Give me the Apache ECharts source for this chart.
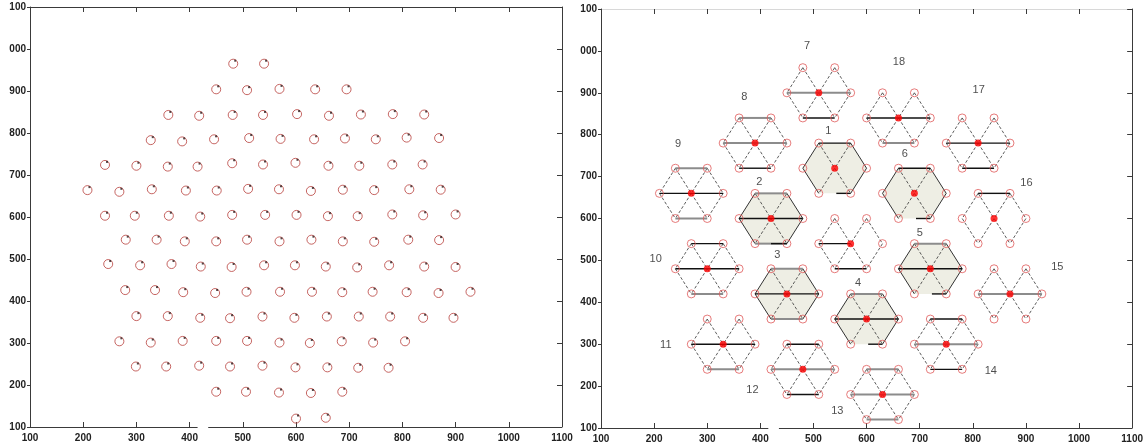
<!DOCTYPE html>
<html>
<head>
<meta charset="utf-8">
<script src="https://cdn.jsdelivr.net/npm/echarts@6/dist/echarts.min.js"></script>
<style>
  html, body { margin: 0; padding: 0; background: #fff; }
  #chart { width: 1146px; height: 448px; }
</style>
</head>
<body>
<div id="chart"></div>
<script>
// ---- Left panel: measured spot positions, one array per lattice row ----
const row960 = [[482,965],[540,965]];
const row900 = [[450,904],[508,902],[569,905],[636,904],[695,904]];
const row840 = [[360,843],[418,841],[481,843],[538,843],[602,845],[662,841],[722,844],[782,845],[841,844]];
const row780 = [[327,783],[386,780],[446,785],[512,788],[571,786],[634,785],[692,787],[750,785],[808,789],[869,788]];
const row720 = [[241,724],[300,722],[359,720],[415,720],[480,728],[538,725],[599,729],[661,722],[719,722],[781,725],[838,725]];
const row660 = [[208,664],[268,660],[329,666],[393,663],[451,663],[510,667],[568,666],[628,662],[688,665],[747,664],[813,666],[872,665]];
const row600 = [[241,603],[297,603],[361,603],[420,601],[480,605],[542,605],[601,605],[660,602],[716,602],[781,606],[839,604],[900,606]];
const row540 = [[280,546],[338,546],[391,542],[450,542],[508,546],[569,542],[629,546],[688,542],[747,541],[811,546],[869,545]];
const row480 = [[247,488],[307,485],[366,488],[421,482],[479,481],[540,485],[598,485],[656,482],[715,480],[775,485],[841,482],[900,481]];
const row420 = [[279,426],[335,426],[388,421],[448,419],[507,422],[570,422],[630,422],[687,421],[744,422],[808,421],[868,419],[928,422]];
const row360 = [[300,364],[359,364],[420,360],[476,359],[537,363],[597,360],[658,363],[718,363],[777,363],[839,360],[896,360]];
const row300 = [[268,304],[327,301],[387,305],[450,305],[508,305],[569,301],[626,300],[686,304],[745,301],[805,304]];
const row240 = [[299,244],[356,244],[418,246],[476,244],[537,246],[599,242],[659,242],[717,241],[774,241]];
const row180 = [[450,184],[506,184],[568,182],[628,181],[687,184]];
const row120 = [[600,120],[656,122]];

// ---- Right panel: hexagonal clusters ----
const clusterNames   = ['1','2','3','4','5','6','7','8','9','10','11','12','13','14','15','16','17','18',''];
const clusterCenterX = [540,420,450,600,720,690,510,390,270,300,330,480,630,750,870,840,810,660,570];
const clusterCenterY = [720,600,420,360,480,660,900,780,660,480,300,240,180,300,420,600,780,840,540];
const clusterShaded  = [1,1,1,1,1,1,0,0,0,0,0,0,0,0,0,0,0,0,0];
// edge kinds: k = dark, g = grey, n = none, kr = dark right part, gkr = grey + dark right part, kl = dark left half
const clusterTopEdge = ['k','g','g','g','g','k','n','g','g','k','n','k','g','k','n','k','n','n','n'];
const clusterMidLine = ['n','k','k','k','k','n','g','g','k','k','k','g','g','g','g','n','k','k','kl'];
const clusterBotEdge = ['kr','gkr','g','kr','kr','kr','k','k','g','g','g','k','g','k','n','n','k','g','k'];
// label anchor of each cluster number (data units)
const clusterLabelX  = [528,398,432,584,700,672,488,370,245,203,222,385,545,834,959,901,811,661];
const clusterLabelY  = [809,687,513,446,565,754,1012,890,778,503,298,191,141,236,484,685,907,974];

// cell template: six corners around a cluster centre (data units)
const hexCorners = [[-30,60],[30,60],[60,0],[30,-60],[-30,-60],[-60,0]];

// ---- Axis ticks ----
const tickValues  = [100,200,300,400,500,600,700,800,900,1000,1100];
const xTickLabels = ['100','200','300','400','500','600','700','800','900','1000','1100'];
const yTickLabels = ['100','200','300','400','500','600','700','800','900','000','100'];
const axisGap = [415, 435];

const measured = [].concat(row960,row900,row840,row780,row720,row660,row600,row540,
                           row480,row420,row360,row300,row240,row180,row120);

const centres = clusterCenterX.map((x, i) => [x, clusterCenterY[i]]);
const corners = [];
centres.forEach(c => hexCorners.forEach(o => corners.push([c[0] + o[0], c[1] + o[1]])));
const labels = clusterLabelX.map((x, i) => [x, clusterLabelY[i], clusterNames[i]]);

const AX = '#3a3a3a';
const font = { fontFamily: 'Liberation Sans, Arial, sans-serif', fontSize: 10, color: '#222', fontWeight: 'bold' };

function xAxisPair(grid) {
  return [
    { gridIndex: grid, type: 'value', min: 100, max: 1100, interval: 100, position: 'bottom',
      axisLine: { show: false }, splitLine: { show: false },
      axisTick: { inside: true, length: 5, lineStyle: { color: AX } },
      axisLabel: Object.assign({ margin: 6, formatter: v => xTickLabels[tickValues.indexOf(v)] }, font) },
    { gridIndex: grid, type: 'value', min: 100, max: 1100, interval: 100, position: 'top',
      axisLine: { show: true, lineStyle: { color: grid === 0 ? AX : '#d8d8d8' } }, splitLine: { show: false },
      axisTick: { inside: true, length: 5, lineStyle: { color: AX } },
      axisLabel: { show: false } }
  ];
}
function yAxisPair(grid) {
  return [
    { gridIndex: grid, type: 'value', min: 100, max: 1100, interval: 100, position: 'left',
      axisLine: { show: true, onZero: false, lineStyle: { color: AX } }, splitLine: { show: false },
      axisTick: { inside: false, length: 3, lineStyle: { color: AX } },
      axisLabel: Object.assign({ margin: 4, formatter: v => yTickLabels[tickValues.indexOf(v)] }, font) },
    { gridIndex: grid, type: 'value', min: 100, max: 1100, interval: 100, position: 'right',
      axisLine: { show: true, onZero: false, lineStyle: { color: AX } }, splitLine: { show: false },
      axisTick: { inside: true, length: 5, lineStyle: { color: AX } },
      axisLabel: { show: false } }
  ];
}

// bottom axis line with its small break
function bottomLine(xi, yi) {
  return {
    type: 'line', xAxisIndex: xi, yAxisIndex: yi, data: [], silent: true,
    markLine: {
      silent: true, symbol: 'none', label: { show: false }, animation: false,
      lineStyle: { color: AX, width: 1, type: 'solid' },
      data: [
        [{ coord: [100, 100] }, { coord: [axisGap[0], 100] }],
        [{ coord: [axisGap[1], 100] }, { coord: [1100, 100] }]
      ]
    }
  };
}

const DASH = { stroke: '#333', lineWidth: 0.8, lineDash: [3, 2] };
const SIDE_SOLID = { stroke: '#333', lineWidth: 1 };
const DARK = { stroke: '#111', lineWidth: 1.4 };
const GREY = { stroke: '#8c8c8c', lineWidth: 2 };

function seg(a, b, style) {
  return { type: 'line', shape: { x1: a[0], y1: a[1], x2: b[0], y2: b[1] }, style: Object.assign({ fill: null }, style) };
}
function lerp(a, b, t) { return [a[0] + (b[0] - a[0]) * t, a[1] + (b[1] - a[1]) * t]; }
function edge(a, b, kind, out) {
  if (kind === 'k') out.push(seg(a, b, DARK));
  else if (kind === 'g') out.push(seg(a, b, GREY));
  else if (kind === 'kr') out.push(seg(lerp(a, b, 0.55), b, DARK));
  else if (kind === 'gkr') { out.push(seg(a, b, GREY)); out.push(seg(lerp(a, b, 0.5), b, DARK)); }
}

function renderCluster(params, api) {
  const i = params.dataIndex;
  const cx = api.value(0), cy = api.value(1);
  const p = hexCorners.map(o => api.coord([cx + o[0], cy + o[1]]));
  const c = api.coord([cx, cy]);
  const [TL, TR, R, BR, BL, L] = p;
  const kids = [];
  const shaded = clusterShaded[i] === 1;
  if (shaded) {
    kids.push({ type: 'polygon', shape: { points: p }, style: { fill: '#eeeee4', stroke: null } });
  }
  // spokes through the centre
  kids.push(seg(TL, BR, DASH));
  kids.push(seg(TR, BL, DASH));
  // slanted sides
  const side = shaded ? SIDE_SOLID : DASH;
  kids.push(seg(TL, L, side), seg(L, BL, side), seg(TR, R, side), seg(R, BR, side));
  edge(TL, TR, clusterTopEdge[i], kids);
  edge(BL, BR, clusterBotEdge[i], kids);
  const m = clusterMidLine[i];
  if (m === 'kl') kids.push(seg(L, c, DARK));
  else edge(L, R, m, kids);
  return { type: 'group', children: kids };
}

const chart = echarts.init(document.getElementById('chart'), null, { renderer: 'canvas' });
chart.setOption({
  animation: false,
  backgroundColor: '#fff',
  grid: [
    { left: 30, top: 7, width: 532, height: 420 },
    { left: 601, top: 9, width: 533, height: 419 }
  ],
  xAxis: [].concat(xAxisPair(0), xAxisPair(1)),
  yAxis: [].concat(yAxisPair(0), yAxisPair(1)),
  series: [
    bottomLine(0, 0),
    bottomLine(2, 2),
    {
      type: 'scatter', xAxisIndex: 0, yAxisIndex: 0, data: measured,
      symbol: 'circle', symbolSize: 9, silent: true,
      itemStyle: { color: 'rgba(255,255,255,0)', borderColor: '#b8403c', borderWidth: 1 }
    },
    {
      type: 'scatter', xAxisIndex: 0, yAxisIndex: 0, data: measured,
      symbol: 'rect', symbolSize: 2, symbolOffset: [2, -3], silent: true,
      itemStyle: { color: '#2a1a1a' }
    },
    {
      type: 'custom', xAxisIndex: 2, yAxisIndex: 2, data: centres,
      renderItem: renderCluster, silent: true, z: 1
    },
    {
      type: 'scatter', xAxisIndex: 2, yAxisIndex: 2, data: corners,
      symbol: 'circle', symbolSize: 8, silent: true, z: 3,
      itemStyle: { color: 'rgba(255,255,255,0)', borderColor: '#e05a5a', borderWidth: 1 }
    },
    {
      type: 'scatter', xAxisIndex: 2, yAxisIndex: 2, data: centres,
      symbol: 'circle', symbolSize: 7, silent: true, z: 4,
      itemStyle: { color: '#ff0000' }
    },
    {
      type: 'scatter', xAxisIndex: 2, yAxisIndex: 2, data: labels,
      symbolSize: 0, silent: true, z: 5,
      label: { show: true, position: 'inside', formatter: p => p.value[2],
               fontFamily: 'Liberation Sans, Arial, sans-serif', fontSize: 11, color: '#222' }
    }
  ]
});
</script>
</body>
</html>
